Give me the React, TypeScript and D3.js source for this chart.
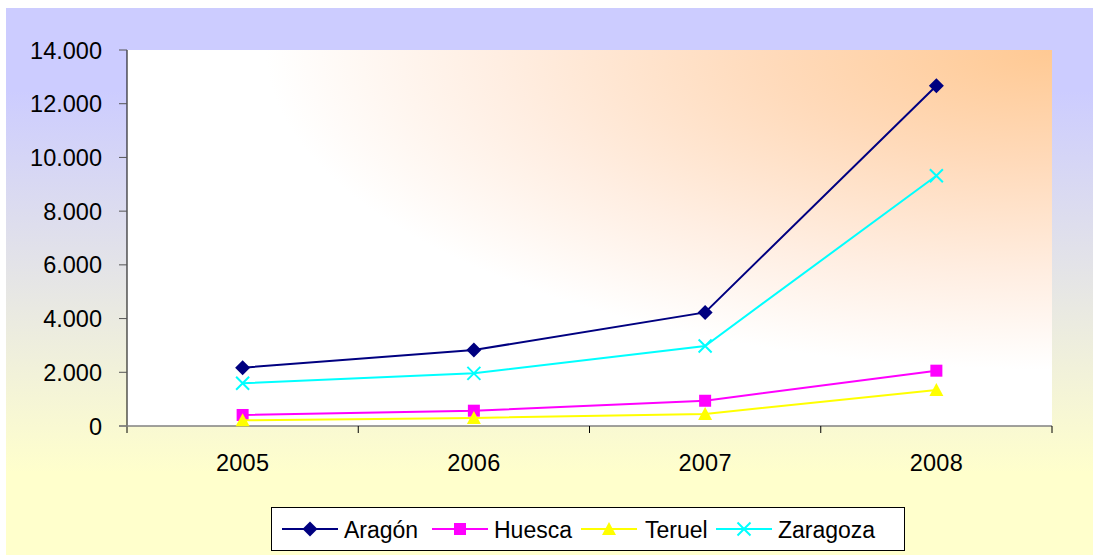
import React from "react";
import * as d3 from "d3";

const years = ["2005", "2006", "2007", "2008"];
const aragon = [2170, 2830, 4230, 12670];
const huesca = [410, 570, 940, 2060];
const teruel = [210, 300, 450, 1340];
const zaragoza = [1590, 1960, 2980, 9320];
const yTicks = [0, 2000, 4000, 6000, 8000, 10000, 12000, 14000];

const seriesList = [
  { name: "Aragón", values: aragon, color: "#000080", marker: "diamond" },
  { name: "Huesca", values: huesca, color: "#FF00FF", marker: "square" },
  { name: "Teruel", values: teruel, color: "#FFFF00", marker: "triangle" },
  { name: "Zaragoza", values: zaragoza, color: "#00FFFF", marker: "x" },
];

const W = 1093;
const H = 555;
const plot = { left: 127, top: 50, right: 1052, bottom: 426 };
const FONT = "'Liberation Sans', Arial, sans-serif";

function Marker({ type, x, y, color }: { type: string; x: number; y: number; color: string }) {
  if (type === "diamond") {
    const s = 7.5;
    return <path d={`M${x},${y - s}L${x + s},${y}L${x},${y + s}L${x - s},${y}Z`} fill={color} />;
  }
  if (type === "square") {
    const s = 6;
    return <rect x={x - s} y={y - s} width={2 * s} height={2 * s} fill={color} />;
  }
  if (type === "triangle") {
    const s = 7;
    return <path d={`M${x},${y - s}L${x + s},${y + 6}L${x - s},${y + 6}Z`} fill={color} />;
  }
  const s = 6.5;
  return (
    <path
      d={`M${x - s},${y - s}L${x + s},${y + s}M${x - s},${y + s}L${x + s},${y - s}`}
      stroke={color}
      strokeWidth={2}
      fill="none"
    />
  );
}

export default function App() {
  const x = d3.scaleBand<string>().domain(years).range([plot.left, plot.right]);
  const y = d3.scaleLinear().domain([0, 14000]).range([plot.bottom, plot.top]);
  const cx = (d: string) => (x(d) as number) + x.bandwidth() / 2;
  const fmt = (v: number) => d3.format(",")(v).replace(/,/g, ".");
  const line = d3
    .line<number>()
    .x((_, i) => cx(years[i]))
    .y((v) => y(v));

  const legendItems = [
    { lx: 282, tx: 344 },
    { lx: 432, tx: 494 },
    { lx: 581, tx: 645 },
    { lx: 716, tx: 778 },
  ];

  return (
    <svg
      width={W}
      height={H}
      style={{ position: "absolute", left: 0, top: 0, display: "block" }}
      fontFamily={FONT}
    >
      <defs>
        <linearGradient id="outerBg" x1="0" y1="0" x2="0" y2="1">
          <stop offset="0" stopColor="#CCCCFF" />
          <stop offset="0.15" stopColor="#CCCCFF" />
          <stop offset="0.55" stopColor="#E9E9E2" />
          <stop offset="0.85" stopColor="#FFFFCC" />
          <stop offset="1" stopColor="#FFFFCC" />
        </linearGradient>
        <radialGradient id="plotBg" cx="1" cy="0" r="1" fx="1" fy="0">
          <stop offset="0" stopColor="#FFC993" />
          <stop offset="0.3" stopColor="#FFDABA" />
          <stop offset="0.6" stopColor="#FFEEE2" />
          <stop offset="0.85" stopColor="#FFFFFF" />
          <stop offset="1" stopColor="#FFFFFF" />
        </radialGradient>
      </defs>
      <rect x={0} y={0} width={W} height={H} fill="#FFFFFF" />
      <rect x={6} y={8} width={W - 6} height={H - 8} fill="url(#outerBg)" />
      <rect
        x={plot.left}
        y={plot.top}
        width={plot.right - plot.left}
        height={plot.bottom - plot.top}
        fill="url(#plotBg)"
      />

      {/* Y axis */}
      <line x1={plot.left} x2={plot.left} y1={plot.top} y2={plot.bottom + 7} stroke="#000" strokeWidth={1} />
      {yTicks.map((t) => (
        <g key={t}>
          <line x1={plot.left - 8} x2={plot.left} y1={y(t)} y2={y(t)} stroke="#555" strokeWidth={1} />
          <text x={102} y={y(t) + 8.5} textAnchor="end" fontSize={23.5} fill="#000">
            {fmt(t)}
          </text>
        </g>
      ))}

      {/* X axis */}
      <line x1={plot.left - 8} x2={plot.right} y1={plot.bottom} y2={plot.bottom} stroke="#808080" strokeWidth={1.5} />
      {years.map((yr, i) => (
        <g key={yr}>
          {i > 0 && (
            <line
              x1={x(yr) as number}
              x2={x(yr) as number}
              y1={plot.bottom}
              y2={plot.bottom + 7}
              stroke="#000"
              strokeWidth={1}
            />
          )}
          <text x={cx(yr)} y={470.5} textAnchor="middle" fontSize={23.5} letterSpacing={0.3} fill="#000">
            {yr}
          </text>
        </g>
      ))}
      <line
        x1={plot.right}
        x2={plot.right}
        y1={plot.bottom}
        y2={plot.bottom + 7}
        stroke="#000"
        strokeWidth={1}
      />

      {/* Series */}
      {seriesList.map((s) => (
        <g key={s.name}>
          <path d={line(s.values) as string} fill="none" stroke={s.color} strokeWidth={2} />
          {s.values.map((v, i) => (
            <Marker key={i} type={s.marker} x={cx(years[i])} y={y(v)} color={s.color} />
          ))}
        </g>
      ))}

      {/* Legend */}
      <rect x={271.5} y={507.5} width={633} height={43} fill="#FFFFFF" stroke="#000" strokeWidth={1} />
      {seriesList.map((s, i) => {
        const it = legendItems[i];
        const ly = 529;
        return (
          <g key={s.name}>
            <line x1={it.lx} x2={it.lx + 56} y1={ly} y2={ly} stroke={s.color} strokeWidth={2} />
            <Marker type={s.marker} x={it.lx + 28} y={ly} color={s.color} />
            <text x={it.tx} y={ly + 8.5} fontSize={23} fill="#000">
              {s.name}
            </text>
          </g>
        );
      })}
    </svg>
  );
}
